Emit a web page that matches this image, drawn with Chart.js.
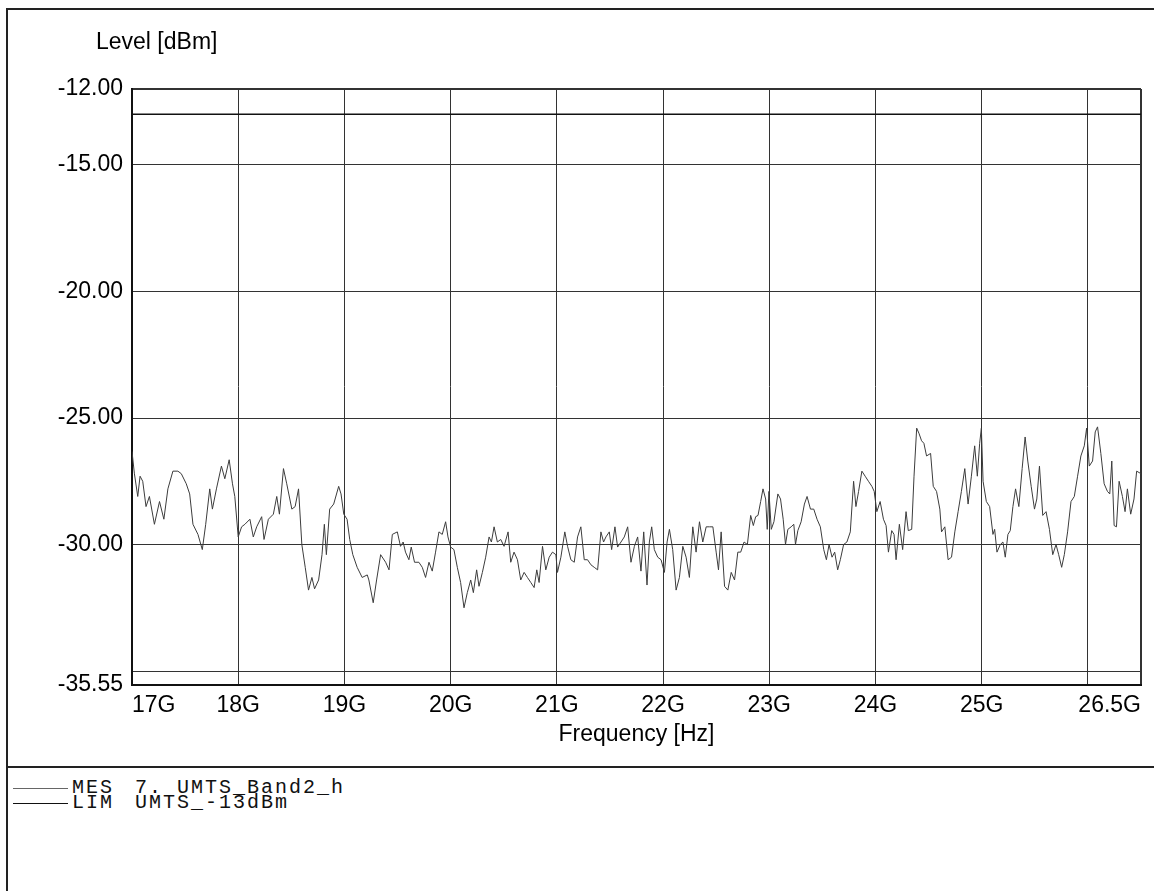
<!DOCTYPE html>
<html>
<head>
<meta charset="utf-8">
<script src="https://cdn.jsdelivr.net/npm/chart.js@4/dist/chart.umd.min.js"></script>
<style>
  html, body { margin: 0; padding: 0; background: #fff; }
  #wrap { position: relative; width: 1154px; height: 891px; overflow: hidden; background: #fff; }
  #c { position: absolute; left: 0; top: 0; }
  .hl { position: absolute; background: #222; }
  .leg { position: absolute; font-family: "Liberation Mono", "DejaVu Sans Mono", monospace; font-size: 20px; letter-spacing: 2px; color: #111; line-height: 20px; white-space: pre; }
</style>
</head>
<body>
<div id="wrap">
  <canvas id="c" width="1154" height="767"></canvas>
  <div class="hl" style="left:6px; top:8px; width:2px; height:883px;"></div>
  <div class="hl" style="left:6px; top:8px; width:1148px; height:2px;"></div>
  <div class="hl" style="left:6px; top:766px; width:1148px; height:2px;"></div>
  <div class="hl" style="left:13px; top:788px; width:55px; height:1px; background:#666;"></div>
  <div class="leg" style="left:72px; top:778px;">MES</div>
  <div class="leg" style="left:135px; top:778px;">7. UMTS_Band2_h</div>
  <div class="hl" style="left:13px; top:803px; width:55px; height:1px; background:#111;"></div>
  <div class="leg" style="left:72px; top:793px;">LIM</div>
  <div class="leg" style="left:135px; top:793px;">UMTS_-13dBm</div>
</div>
<script>
// ---- data ----
const freqGHz = [
17.000,17.022,17.054,17.076,17.101,17.132,17.164,17.211,17.259,17.300,17.338,17.385,17.432,17.464,17.511,17.543,17.574,17.621,17.662,17.694,17.732,17.757,17.795,17.842,17.874,17.915,17.946,17.968,
18.000,18.032,18.063,18.110,18.142,18.174,18.221,18.243,18.284,18.331,18.363,18.388,18.426,18.457,18.505,18.536,18.568,18.599,18.631,18.662,18.694,18.719,18.757,18.789,18.811,18.830,18.861,18.899,18.946,18.968,18.994,
19.025,19.050,19.079,19.120,19.167,19.215,19.230,19.271,19.303,19.341,19.388,19.420,19.451,19.498,
19.528,19.553,19.575,19.607,19.629,19.660,19.701,19.733,19.764,19.796,19.827,19.858,19.890,19.921,19.953,19.975,
20.000,20.031,20.063,20.094,20.126,20.157,20.189,20.214,20.245,20.267,20.299,20.330,20.362,20.384,20.409,20.440,20.472,20.503,20.541,20.566,20.597,20.629,20.660,20.692,20.723,20.755,20.786,20.811,20.833,20.865,20.896,20.928,20.959,20.991,
21.006,21.038,21.075,21.101,21.132,21.164,21.195,21.226,21.258,21.289,21.321,21.352,21.384,21.415,21.440,21.462,21.494,21.516,21.547,21.572,21.604,21.635,21.667,21.698,21.730,21.761,21.792,21.818,21.849,21.871,21.893,21.918,21.950,21.981,
22.013,22.038,22.060,22.091,22.123,22.154,22.186,22.217,22.248,22.280,22.311,22.343,22.374,22.406,22.437,22.469,22.500,22.522,22.547,22.579,22.610,22.642,22.673,22.704,
22.731,22.763,22.794,22.825,22.850,22.872,22.894,22.919,22.941,22.966,22.981,22.997,
23.019,23.044,23.081,23.106,23.131,23.153,23.175,23.206,23.231,23.247,23.269,23.300,23.331,23.356,23.388,23.419,23.450,23.481,23.513,23.538,23.563,23.591,23.616,23.644,23.669,23.700,23.731,23.763,23.794,23.816,23.841,23.872,23.903,23.934,23.966,23.988,
24.013,24.044,24.075,24.100,24.122,24.153,24.175,24.194,24.225,24.256,24.288,24.309,24.341,24.363,24.388,24.409,24.434,24.456,24.481,24.519,24.544,24.575,24.606,24.622,24.653,24.684,24.716,24.747,24.778,24.809,24.841,24.872,24.903,24.934,24.959,24.981,24.997,
25.013,25.044,25.075,25.106,25.122,25.144,25.175,25.200,25.222,25.247,25.269,25.294,25.319,25.350,25.381,25.409,25.434,25.466,25.497,25.519,25.544,25.575,25.606,25.638,25.669,25.700,25.725,25.753,25.778,25.809,25.841,25.872,25.903,25.934,25.966,25.988,
26.013,26.044,26.069,26.091,26.122,26.153,26.184,26.206,26.225,26.247,26.269,26.294,26.325,26.350,26.372,26.403,26.434,26.459,26.500
];
const levelDbm = [
-26.32,-27.18,-28.1,-27.3,-27.5,-28.5,-28.1,-29.2,-28.3,-29.0,-27.8,-27.1,-27.1,-27.2,-27.6,-28.0,-29.2,-29.6,-30.2,-29.2,-27.8,-28.6,-27.8,-26.9,-27.4,-26.65,-27.6,-28.1,
-29.7,-29.3,-29.2,-29.0,-29.7,-29.3,-28.9,-29.8,-29.0,-28.8,-28.1,-28.8,-27.0,-27.6,-28.6,-28.5,-27.8,-30.0,-30.9,-31.8,-31.3,-31.75,-31.4,-30.4,-29.2,-30.4,-28.6,-28.4,-27.7,-28.0,-28.8,
-29.0,-29.8,-30.4,-30.9,-31.3,-31.2,-31.4,-32.3,-31.4,-30.4,-30.7,-31.0,-29.6,-29.5,
-30.07,-29.9,-30.3,-30.6,-30.1,-30.7,-30.7,-30.9,-31.3,-30.7,-31.05,-30.3,-29.5,-29.6,-29.1,-29.7,
-30.1,-30.2,-30.9,-31.5,-32.5,-31.9,-31.4,-31.9,-31.0,-31.65,-31.1,-30.5,-29.7,-29.9,-29.3,-29.9,-29.8,-30.07,-29.5,-30.7,-30.3,-30.6,-31.4,-31.1,-31.3,-31.5,-31.7,-31.0,-31.5,-30.07,-31.0,-30.5,-30.3,-30.4,
-31.1,-30.5,-29.5,-30.07,-30.6,-30.7,-29.7,-29.3,-30.6,-30.6,-30.8,-30.9,-31.0,-29.5,-29.9,-29.7,-29.5,-30.2,-29.3,-30.1,-29.9,-29.7,-29.3,-30.7,-30.07,-29.7,-31.05,-29.5,-31.6,-29.9,-29.3,-30.2,-30.5,-30.6,
-31.1,-29.9,-29.4,-30.2,-31.8,-31.3,-30.07,-30.5,-31.3,-29.3,-30.3,-29.1,-29.9,-29.3,-29.3,-29.3,-30.3,-31.0,-29.5,-31.65,-31.8,-31.1,-31.4,-30.3,
-30.3,-29.9,-30.0,-28.85,-29.25,-28.9,-28.85,-28.3,-27.8,-28.2,-29.4,-27.9,
-29.4,-29.1,-28.0,-28.2,-29.0,-30.0,-29.4,-29.3,-29.2,-30.0,-29.45,-29.1,-28.4,-28.1,-28.6,-28.6,-29.0,-29.3,-30.2,-30.6,-30.0,-30.5,-30.3,-31.0,-30.6,-30.0,-29.9,-29.5,-27.5,-28.5,-27.9,-27.1,-27.3,-27.5,-27.7,-27.9,
-28.7,-28.3,-29.0,-29.25,-30.3,-29.45,-29.6,-30.6,-29.2,-30.2,-28.7,-29.45,-29.4,-27.3,-25.4,-25.6,-25.9,-26.0,-26.5,-26.4,-27.7,-27.9,-28.6,-29.5,-29.3,-30.6,-30.5,-29.5,-28.7,-27.9,-27.0,-28.4,-27.3,-26.1,-27.3,-26.0,-25.4,
-27.5,-28.3,-28.5,-29.6,-29.4,-30.3,-30.0,-29.9,-30.5,-29.6,-29.45,-28.5,-27.8,-28.5,-27.0,-25.75,-26.7,-27.7,-28.6,-28.2,-26.9,-28.85,-28.7,-29.4,-30.4,-30.0,-30.4,-30.9,-30.4,-29.5,-28.3,-28.1,-27.3,-26.5,-26.1,-25.4,
-26.9,-26.7,-25.55,-25.35,-26.4,-27.6,-27.9,-28.0,-26.7,-29.25,-29.3,-27.5,-28.1,-28.7,-27.8,-28.8,-28.2,-27.1,-27.2
];
const limitFreqGHz = [17, 26.5];
const limitDbm = [-13, -13];

const yTickValues = [-12, -15, -20, -25, -30, -35, -35.55];
const yTickLabels = ['-12.00', '-15.00', '-20.00', '-25.00', '-30.00', '', '-35.55'];
const xTickValues = [17, 18, 19, 20, 21, 22, 23, 24, 25, 26, 26.5];
const xTickLabels = ['17G', '18G', '19G', '20G', '21G', '22G', '23G', '24G', '25G', '', '26.5G'];

const yTitle = 'Level [dBm]';
const xTitle = 'Frequency [Hz]';

// ---- chart ----
const FONT = '"Liberation Sans", Arial, sans-serif';

const yTitlePlugin = {
  id: 'yTitlePlugin',
  afterDraw(chart) {
    const ctx = chart.ctx, a = chart.chartArea;
    ctx.save();
    ctx.font = '23px ' + FONT;
    ctx.fillStyle = '#000';
    ctx.textAlign = 'left';
    ctx.textBaseline = 'middle';
    ctx.fillText(yTitle, a.left - 36, a.top - 46);
    ctx.restore();
  }
};

new Chart(document.getElementById('c'), {
  type: 'line',
  data: {
    datasets: [
      {
        label: 'MES',
        data: freqGHz.map((f, i) => ({ x: f, y: levelDbm[i] })),
        borderColor: '#3c3c3c',
        borderWidth: 1,
        pointRadius: 0,
        tension: 0,
        order: 1
      },
      {
        label: 'LIM',
        data: limitFreqGHz.map((f, i) => ({ x: f, y: limitDbm[i] })),
        borderColor: '#111',
        borderWidth: 1.5,
        pointRadius: 0,
        order: 0
      }
    ]
  },
  options: {
    responsive: false,
    animation: false,
    devicePixelRatio: 1,
    layout: { padding: { top: 89, right: 13, left: 0, bottom: 0 } },
    plugins: { legend: { display: false }, title: { display: false }, tooltip: { enabled: false } },
    scales: {
      x: {
        type: 'linear',
        min: 17,
        max: 26.5,
        afterBuildTicks: (s) => { s.ticks = xTickValues.map(v => ({ value: v })); },
        afterFit: (s) => { s.height = 82; },
        ticks: {
          autoSkip: false,
          maxRotation: 0,
          minRotation: 0,
          align: 'inner',
          padding: 7,
          color: '#000',
          font: { family: FONT, size: 23 },
          callback: (v) => { const i = xTickValues.indexOf(v); return i >= 0 ? xTickLabels[i] : ''; }
        },
        grid: {
          drawTicks: false,
          color: '#333',
          lineWidth: (c) => (c.tick && (c.tick.value === 17 || c.tick.value === 26.5)) ? 2 : 1
        },
        border: { display: true, color: '#111', width: 2 },
        title: {
          display: true,
          text: xTitle,
          color: '#000',
          font: { family: FONT, size: 23 },
          padding: { top: 0, bottom: 19 }
        }
      },
      y: {
        type: 'linear',
        min: -35.55,
        max: -12,
        afterBuildTicks: (s) => { s.ticks = yTickValues.slice().sort((a, b) => a - b).map(v => ({ value: v })); },
        afterFit: (s) => { s.width = 132; },
        ticks: {
          autoSkip: false,
          padding: 9,
          color: '#000',
          font: { family: FONT, size: 23 },
          callback: (v) => { const i = yTickValues.indexOf(v); return i >= 0 ? yTickLabels[i] : ''; }
        },
        grid: {
          drawTicks: false,
          color: '#333',
          lineWidth: (c) => (c.tick && (c.tick.value === -12 || c.tick.value === -35.55)) ? 2 : 1
        },
        border: { display: true, color: '#111', width: 2 }
      }
    }
  },
  plugins: [yTitlePlugin]
});
</script>
</body>
</html>
